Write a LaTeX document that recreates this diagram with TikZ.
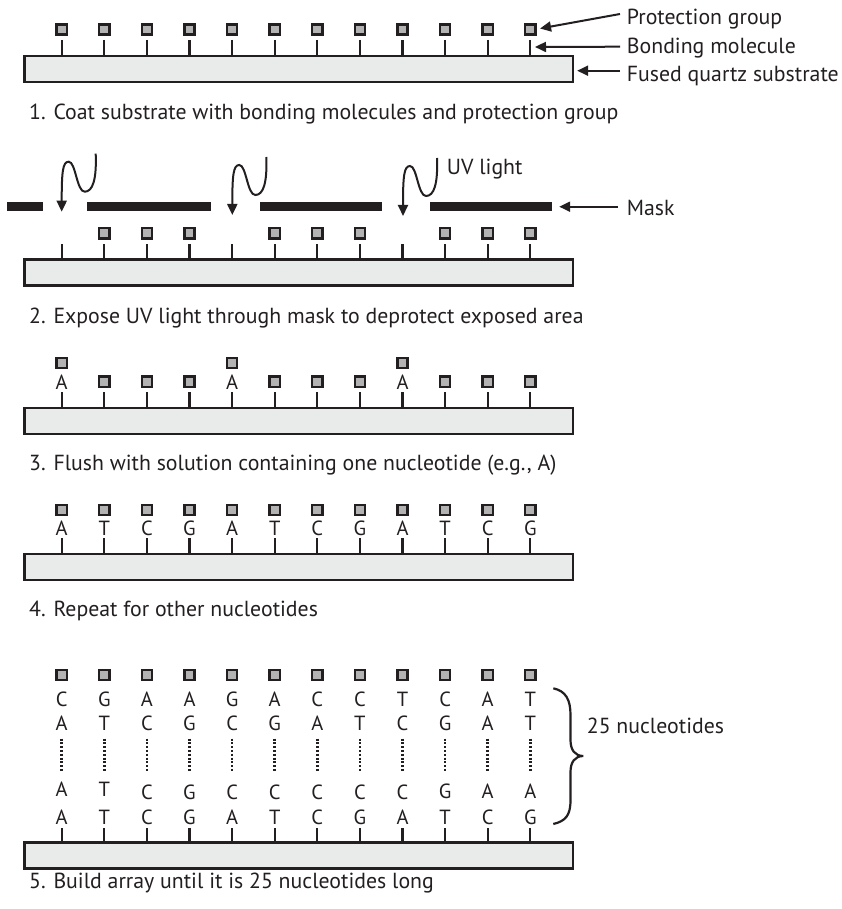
\documentclass[tikz,border=0pt]{standalone}
\usepackage{fontspec}
\setmainfont{PT Sans}
\usetikzlibrary{arrows.meta}
\definecolor{ink}{HTML}{231F20}
\definecolor{pgfill}{HTML}{B3B3B3}
\definecolor{subfill}{HTML}{E9EBEA}
\begin{document}
\begin{tikzpicture}[x=1pt,y=-1pt,
  pgroup/.style={rectangle,draw=ink,fill=pgfill,line width=2.3pt,minimum size=10.2pt,inner sep=0pt},
  bond/.style={draw=ink,line width=2.2pt},
  substrate/.style={rectangle,draw=ink,fill=subfill,line width=2.3pt,minimum width=548.5pt,minimum height=26pt,inner sep=0pt},
  lbl/.style={font=\fontsize{21.8}{26}\selectfont,inner sep=0pt,anchor=base west,text=ink},
  nuc/.style={font=\fontsize{20.5}{24}\selectfont,inner sep=0pt,anchor=base,text=ink},
  pointer/.style={draw=ink,line width=2pt,-{Triangle[length=11pt,width=10pt]}},
  maskbar/.style={rectangle,fill=ink,draw=none,minimum height=9.3pt,inner sep=0pt},
  dotline/.style={draw=ink,line width=2.6pt,dash pattern=on 2.1pt off 1.7pt},
  brace/.style={draw=ink,line width=2.2pt}]
\useasboundingbox (0,0) rectangle (841,909);

% ---------- Step 1 ----------
\node[substrate] (sub1) at (298.75,69) {};
\foreach \i in {0,...,11}{
  \pgfmathsetmacro\xx{61.7+42.6*\i}
  \node[pgroup] (pa\i) at (\xx,29.5) {};
  \coordinate (sa\i) at (\xx,40);
  \coordinate (ma\i) at (\xx,47);
  \draw[bond] (sa\i) -- (\xx,56);
}
\node[lbl] (lblP) at (626.7,25) {Protection group};
\node[lbl] (lblB) at (626.7,53.3) {Bonding molecule};
\node[lbl] (lblF) at (626.7,81.7) {Fused quartz substrate};
\coordinate (tailP) at (620,14);
\coordinate (tailB) at (620,46.7);
\coordinate (tailF) at (620,70.7);
\draw[pointer] (tailP) -- ([shift={(3.5,-1)}]pa11.east);
\draw[pointer] (tailB) -- ([xshift=4.7pt]ma11);
\draw[pointer] (tailF) -- ([xshift=3pt]tailF -| sub1.east);
\node[lbl] (cap1) at (29,120) {1. Coat substrate with bonding molecules and protection group};

% ---------- Step 2 ----------
\node[maskbar,minimum width=36.6pt] (m1) at (25,206.3) {};
\node[maskbar,minimum width=124.3pt] (m2) at (148.85,206.3) {};
\node[maskbar,minimum width=121.7pt] (m3) at (320.85,206.3) {};
\node[maskbar,minimum width=122.3pt] (m4) at (491.15,206.3) {};
\node[substrate] (sub2) at (298.75,272.5) {};
\foreach \i in {0,...,11}{
  \pgfmathsetmacro\xx{61.7+42.6*\i}
  \coordinate (sb\i) at (\xx,244);
  \draw[bond] (sb\i) -- (\xx,259.5);
}
\foreach \i in {1,2,3,5,6,7,9,10,11}{
  \pgfmathsetmacro\xx{61.7+42.6*\i}
  \node[pgroup] (pb\i) at (\xx,233.3) {};
}
\coordinate (uvt1) at (61.7,211.7);
\coordinate (uvt2) at (232.3,215);
\coordinate (uvt3) at (403,216);
\foreach \t in {uvt1,uvt2,uvt3}{
  \draw[pointer] ([shift={(34,-58)}]\t)
    .. controls ([shift={(35,-32)}]\t) and ([shift={(31,-20)}]\t) .. ([shift={(23,-20)}]\t)
    .. controls ([shift={(15,-20)}]\t) and ([shift={(14,-50)}]\t) .. ([shift={(7,-50)}]\t)
    .. controls ([shift={(1,-50)}]\t) and ([shift={(0,-40)}]\t) .. (\t);
}
\node[lbl] (lblUV) at (446.7,175) {UV light};
\node[lbl] (lblM) at (626.7,215) {Mask};
\coordinate (tailM) at (618,206.7);
\draw[pointer] (tailM) -- ([xshift=6.7pt]tailM -| m4.east);
\node[lbl] (cap2) at (29,323.3) {2. Expose UV light through mask to deprotect exposed area};

% ---------- Step 3 ----------
\node[substrate] (sub3) at (298.75,420.75) {};
\foreach \i in {0,...,11}{
  \pgfmathsetmacro\xx{61.7+42.6*\i}
  \coordinate (sc\i) at (\xx,392);
  \draw[bond] (sc\i) -- (\xx,408.5);
}
\foreach \i in {0,4,8}{
  \pgfmathsetmacro\xx{61.7+42.6*\i}
  \node[pgroup] (pc\i) at (\xx,363) {};
  \node[nuc] (nc\i) at (\xx,389.3) {A};
}
\foreach \i in {1,2,3,5,6,7,9,10,11}{
  \pgfmathsetmacro\xx{61.7+42.6*\i}
  \node[pgroup] (pc\i) at (\xx,381.7) {};
}
\node[lbl] (cap3) at (29,470) {3. Flush with solution containing one nucleotide (e.g., A)};

% ---------- Step 4 ----------
\node[substrate] (sub4) at (298.75,567.25) {};
\foreach \i/\a in {0/A,1/T,2/C,3/G,4/A,5/T,6/C,7/G,8/A,9/T,10/C,11/G}{
  \pgfmathsetmacro\xx{61.7+42.6*\i}
  \node[pgroup] (pd\i) at (\xx,510) {};
  \node[nuc] (nd\i) at (\xx,535) {\a};
  \coordinate (sd\i) at (\xx,538.3);
  \draw[bond] (sd\i) -- (\xx,555);
}
\node[lbl] (cap4) at (29,616.7) {4. Repeat for other nucleotides};

% ---------- Step 5 ----------
\node[substrate] (sub5) at (298.75,855.5) {};
\foreach \i/\a/\b/\c/\d/\yc in {0/C/A/A/A/796.7,1/G/T/T/T/796.7,2/A/C/C/C/799.5,3/A/G/G/G/799.5,
  4/G/C/C/A/799.5,5/A/G/C/T/799.5,6/C/A/C/C/799.5,7/C/T/C/G/799.5,8/T/C/C/A/799.5,
  9/C/G/G/T/798,10/A/A/A/C/798,11/T/T/A/G/798}{
  \pgfmathsetmacro\xx{61.7+42.6*\i}
  \node[pgroup] (pe\i) at (\xx,675) {};
  \node[nuc] (ne1\i) at (\xx,706.7) {\a};
  \node[nuc] (ne2\i) at (\xx,730.7) {\b};
  \coordinate (dt\i) at (\xx,738.5);
  \draw[dotline] (dt\i) -- (\xx,772);
  \node[nuc] (ne3\i) at (\xx,\yc) {\c};
  \node[nuc] (ne4\i) at (\xx,824) {\d};
  \coordinate (se\i) at (\xx,828);
  \draw[bond] (se\i) -- (\xx,843);
}
\coordinate (brT) at (553.3,688.3);
\coordinate (brB) at (553.3,824);
\coordinate (brM) at (583.3,756);
\draw[brace] (brT) .. controls (566,691) and (570.5,700) .. (570.5,715)
  -- (570.5,740) .. controls (570.5,750) and (575,756) .. (brM)
  .. controls (575,756) and (570.5,762) .. (570.5,772)
  -- (570.5,800) .. controls (570.5,815) and (566,821) .. (brB);
\node[lbl] (lbl25) at (586.7,733.3) {25 nucleotides};
\node[lbl] (cap5) at (29,888.3) {5. Build array until it is 25 nucleotides long};
\end{tikzpicture}
\end{document}
